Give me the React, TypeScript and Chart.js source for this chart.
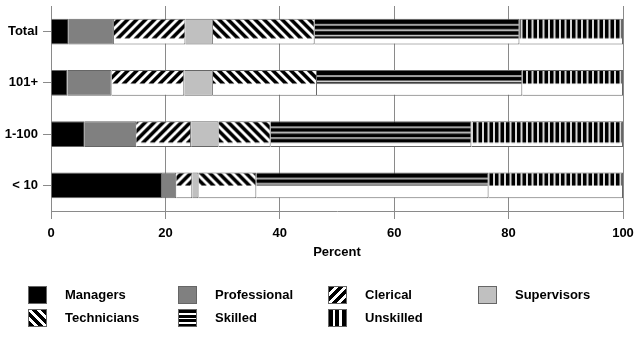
import React, { useEffect, useRef } from 'react';
import { Chart, registerables } from 'chart.js';

Chart.register(...registerables);

// ---------- data ----------
const categories = ['Total', '101+', '1-100', '< 10'];
const managers = [3.1, 2.9, 5.9, 19.4];
const professional = [7.9, 7.7, 9.0, 2.5];
const clerical = [12.5, 12.7, 9.6, 2.8];
const supervisors = [4.8, 5.0, 4.8, 1.1];
const technicians = [17.8, 18.2, 9.1, 10.1];
const skilled = [35.8, 35.9, 35.1, 40.6];
const unskilled = [18.1, 17.6, 26.5, 23.5];
const xTicks = [0, 20, 40, 60, 80, 100];
const axisTitle = 'Percent';

// ---------- style ----------
const FONT = "'Liberation Sans', Arial, Helvetica, sans-serif";
const hatchFill = [0.76, 0.53, 0.83, 0.51]; // share of bar height covered by hatching
const GRID = '#8a8a8a';
const EDGE = '#666666';

type Kind = 'solid' | 'clerical' | 'technicians' | 'skilled' | 'unskilled';

const seriesDefs: { label: string; data: number[]; kind: Kind; color: string }[] = [
  { label: 'Managers', data: managers, kind: 'solid', color: '#000000' },
  { label: 'Professional', data: professional, kind: 'solid', color: '#808080' },
  { label: 'Clerical', data: clerical, kind: 'clerical', color: '#000000' },
  { label: 'Supervisors', data: supervisors, kind: 'solid', color: '#c0c0c0' },
  { label: 'Technicians', data: technicians, kind: 'technicians', color: '#000000' },
  { label: 'Skilled', data: skilled, kind: 'skilled', color: '#000000' },
  { label: 'Unskilled', data: unskilled, kind: 'unskilled', color: '#000000' },
];

function level(kind: Kind, x: number, y: number): number {
  switch (kind) {
    case 'clerical':
      return ((x + y) % 9 + 9) % 9 < 5 ? 0 : 255;
    case 'technicians':
      return ((x - y) % 9 + 9) % 9 < 5 ? 0 : 255;
    case 'skilled':
      if (y < 5.2) return 0;
      return ((y - 5.2) % 5.4) < 1.6 ? 215 : 0;
    case 'unskilled':
      return (x % 5.5) < 3.6 ? 0 : 215;
    default:
      return 0;
  }
}

const tileWidth: Record<string, number> = { clerical: 9, technicians: 9, skilled: 4, unskilled: 11 };
const patternCache = new Map<string, CanvasPattern>();

function getPattern(ctx: CanvasRenderingContext2D, kind: Kind, fillH: number, top: number): CanvasPattern | string {
  const key = `${kind}|${fillH.toFixed(2)}|${top.toFixed(2)}`;
  const cached = patternCache.get(key);
  if (cached) return cached;
  const w = tileWidth[kind];
  const h = 64;
  const tile = document.createElement('canvas');
  tile.width = w;
  tile.height = h;
  const tctx = tile.getContext('2d');
  if (!tctx) return '#000';
  const img = tctx.createImageData(w, h);
  const S = 4;
  for (let py = 0; py < h; py++) {
    for (let px = 0; px < w; px++) {
      let sum = 0;
      for (let sy = 0; sy < S; sy++) {
        for (let sx = 0; sx < S; sx++) {
          const x = px + (sx + 0.5) / S;
          const y = py + (sy + 0.5) / S;
          sum += y >= fillH ? 255 : level(kind, x, y);
        }
      }
      const v = Math.round(sum / (S * S));
      const i = (py * w + px) * 4;
      img.data[i] = v;
      img.data[i + 1] = v;
      img.data[i + 2] = v;
      img.data[i + 3] = 255;
    }
  }
  tctx.putImageData(img, 0, 0);
  const pat = ctx.createPattern(tile, 'repeat');
  if (!pat) return '#000';
  pat.setTransform(new DOMMatrix([1, 0, 0, 1, 0, top]));
  patternCache.set(key, pat);
  return pat;
}

const BAR_PCT = 0.5;

function backgroundFor(kind: Kind, color: string) {
  if (kind === 'solid') return color;
  return (c: any) => {
    if (c.type !== 'data') return color;
    const chart = c.chart;
    const ys = chart.scales && chart.scales.y;
    if (!ys || !ys.height) return color;
    const spacing = ys.height / categories.length;
    const thick = spacing * BAR_PCT;
    const top = ys.getPixelForValue(c.dataIndex) - thick / 2;
    const fillH = thick * hatchFill[c.dataIndex];
    return getPattern(chart.ctx, kind, fillH, top);
  };
}

const swatchCss: Record<Kind, string> = {
  solid: '',
  clerical: 'repeating-linear-gradient(135deg, #000 0px, #000 3.6px, #fff 3.6px, #fff 6.4px)',
  technicians: 'repeating-linear-gradient(45deg, #000 0px, #000 3.6px, #fff 3.6px, #fff 6.4px)',
  skilled: 'repeating-linear-gradient(to bottom, #000 0px, #000 3px, #fff 3px, #fff 4.6px)',
  unskilled: 'repeating-linear-gradient(to right, #000 0px, #000 4px, #fff 4px, #fff 6.4px)',
};

const legendLayout = [
  [0, 0], [1, 0], [2, 0], [3, 0],
  [0, 1], [1, 1], [2, 1],
];

export default function App() {
  const canvasRef = useRef<HTMLCanvasElement | null>(null);

  useEffect(() => {
    const canvas = canvasRef.current;
    if (!canvas) return;
    const tickFont = { family: FONT, size: 13, weight: 'bold' as const };
    const chart = new Chart(canvas, {
      type: 'bar',
      data: {
        labels: categories,
        datasets: seriesDefs.map((s) => ({
          label: s.label,
          data: s.data,
          backgroundColor: backgroundFor(s.kind, s.color) as any,
          borderColor: EDGE,
          borderWidth: 1,
          barPercentage: BAR_PCT,
          categoryPercentage: 1.0,
        })),
      },
      options: {
        indexAxis: 'y',
        responsive: false,
        animation: false,
        events: [],
        layout: { padding: { left: 0, right: 19, top: 6, bottom: 72 } },
        plugins: {
          legend: { display: false },
          tooltip: { enabled: false },
        },
        scales: {
          x: {
            type: 'linear',
            stacked: true,
            min: 0,
            max: 100,
            afterBuildTicks: (s: any) => {
              s.ticks = xTicks.map((v) => ({ value: v }));
            },
            grid: { color: GRID, lineWidth: 1, tickLength: 8, drawTicks: true },
            border: { color: GRID, width: 1 },
            ticks: { color: '#000', font: tickFont, padding: 7, maxRotation: 0, autoSkip: false },
            title: {
              display: true,
              text: axisTitle,
              color: '#000',
              font: tickFont,
              padding: { top: 0, bottom: 6 },
            },
            afterFit: (s: any) => {
              s.height = 55;
              s.paddingLeft = 0;
              s.paddingRight = 0;
            },
          },
          y: {
            type: 'category',
            stacked: true,
            grid: { drawOnChartArea: false, drawTicks: true, tickLength: 8, color: GRID, offset: false },
            border: { color: GRID, width: 1 },
            ticks: { color: '#000', font: tickFont, padding: 5 },
            afterFit: (s: any) => {
              s.width = 51;
              s.paddingTop = 0;
              s.paddingBottom = 0;
            },
          },
        },
      },
    });
    return () => {
      chart.destroy();
    };
  }, []);

  return (
    <div style={{ position: 'absolute', left: 0, top: 0, width: 642, height: 338, background: '#fff', overflow: 'hidden' }}>
      <canvas ref={canvasRef} width={642} height={338} style={{ display: 'block', width: 642, height: 338 }} />
      {seriesDefs.map((s, i) => {
        const [col, row] = legendLayout[i];
        const left = 28 + col * 150;
        const top = 286 + row * 23;
        return (
          <div key={s.label} style={{ position: 'absolute', left, top, height: 18, display: 'flex', alignItems: 'center' }}>
            <div
              style={{
                width: 19,
                height: 18,
                boxSizing: 'border-box',
                border: `1px solid ${EDGE}`,
                background: s.kind === 'solid' ? s.color : swatchCss[s.kind],
              }}
            />
            <span
              style={{
                marginLeft: 18,
                fontFamily: FONT,
                fontWeight: 'bold',
                fontSize: 13,
                color: '#000',
                whiteSpace: 'nowrap',
                lineHeight: '18px',
              }}
            >
              {s.label}
            </span>
          </div>
        );
      })}
    </div>
  );
}
